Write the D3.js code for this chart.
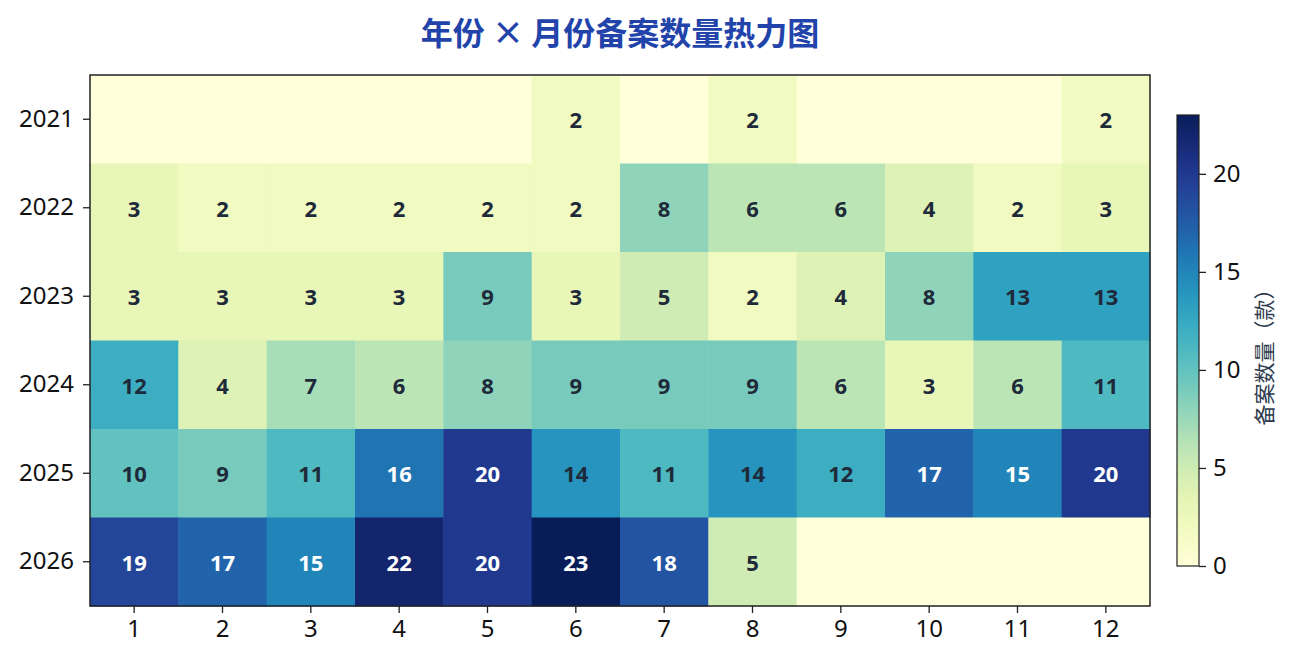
<!DOCTYPE html>
<html><head><meta charset="utf-8">
<script src="https://cdn.jsdelivr.net/npm/d3@7/dist/d3.min.js"></script>
<style>
body{margin:0;background:#fff;}
text{font-family:"Noto Sans","Noto Sans CJK SC",sans-serif;}
</style></head>
<body><svg id="c" width="1292" height="663"></svg>
<script>
const years = ["2021","2022","2023","2024","2025","2026"];
const months = ["1","2","3","4","5","6","7","8","9","10","11","12"];
const v2021 = [0,0,0,0,0,2,0,2,0,0,0,2];
const v2022 = [3,2,2,2,2,2,8,6,6,4,2,3];
const v2023 = [3,3,3,3,9,3,5,2,4,8,13,13];
const v2024 = [12,4,7,6,8,9,9,9,6,3,6,11];
const v2025 = [10,9,11,16,20,14,11,14,12,17,15,20];
const v2026 = [19,17,15,22,20,23,18,5,0,0,0,0];
const rows = [v2021,v2022,v2023,v2024,v2025,v2026];
const cbTicks = [0,5,10,15,20];
const vmax = 23;

const svg = d3.select("#c");
const L=90,R=1150,T=75,B=606;
const x = d3.scaleBand().domain(months).range([L,R]);
const y = d3.scaleBand().domain(years).range([T,B]);
const color = d3.scaleSequential(d3.interpolateYlGnBu).domain([0,vmax]);

const cells = [];
years.forEach((yr,i)=>months.forEach((m,j)=>cells.push({yr,m,v:rows[i][j]})));

svg.append("g").selectAll("rect").data(cells).join("rect")
  .attr("x",d=>x(d.m)).attr("y",d=>y(d.yr))
  .attr("width",x.bandwidth()+0.5).attr("height",y.bandwidth()+0.5)
  .attr("fill",d=>color(d.v));

svg.append("g").selectAll("text").data(cells.filter(d=>d.v>0)).join("text")
  .attr("x",d=>x(d.m)+x.bandwidth()/2).attr("y",d=>y(d.yr)+y.bandwidth()/2)
  .attr("text-anchor","middle").attr("dominant-baseline","central")
  .attr("font-size",22).attr("font-weight","bold")
  .attr("fill",d=>d.v>=15?"#ffffff":"#1e2a3a")
  .text(d=>d.v);

svg.append("rect").attr("x",L).attr("y",T).attr("width",R-L).attr("height",B-T)
  .attr("fill","none").attr("stroke","#222").attr("stroke-width",1.5);

const xa = svg.append("g").attr("transform",`translate(0,${B})`)
  .call(d3.axisBottom(x).tickSize(7).tickPadding(7));
const ya = svg.append("g").attr("transform",`translate(${L},0)`)
  .call(d3.axisLeft(y).tickSize(7).tickPadding(9));
[xa,ya].forEach(a=>{
  a.select(".domain").remove();
  a.selectAll(".tick line").attr("stroke","#222").attr("stroke-width",1.3);
  a.selectAll(".tick text").attr("font-size",24).attr("fill","#111")
   .style("font-family","'Noto Sans','Noto Sans CJK SC',sans-serif");
});

// colorbar
const cbX=1177, cbW=22, cbT=115, cbB=566;
const cy = d3.scaleLinear().domain([0,vmax]).range([cbB,cbT]);
const defs = svg.append("defs");
const grad = defs.append("linearGradient").attr("id","g").attr("x1",0).attr("y1",1).attr("x2",0).attr("y2",0);
d3.range(0,1.0001,0.05).forEach(t=>grad.append("stop").attr("offset",t).attr("stop-color",color(t*vmax)));
svg.append("rect").attr("x",cbX).attr("y",cbT).attr("width",cbW).attr("height",cbB-cbT)
  .attr("fill","url(#g)").attr("stroke","#222").attr("stroke-width",1.2);
const ca = svg.append("g").attr("transform",`translate(${cbX+cbW},0)`)
  .call(d3.axisRight(cy).tickValues(cbTicks).tickSize(7).tickPadding(7));
ca.select(".domain").remove();
ca.selectAll(".tick line").attr("stroke","#222").attr("stroke-width",1.3);
ca.selectAll(".tick text").attr("font-size",24).attr("fill","#111")
  .style("font-family","'Noto Sans','Noto Sans CJK SC',sans-serif");

svg.append("text").attr("transform",`translate(1263,352) rotate(-90)`)
  .attr("text-anchor","middle").attr("dominant-baseline","central")
  .style("font-family","'Noto Sans CJK SC',sans-serif")
  .attr("font-size",21).attr("fill","#2e3b4e").text("备案数量（款）");

svg.append("text").attr("x",620).attr("y",31).attr("text-anchor","middle")
  .attr("dominant-baseline","central").attr("font-size",32).attr("font-weight","bold")
  .style("font-family","'Noto Sans CJK SC',sans-serif")
  .attr("fill","#2244aa").text("年份 × 月份备案数量热力图");
</script></body></html>
